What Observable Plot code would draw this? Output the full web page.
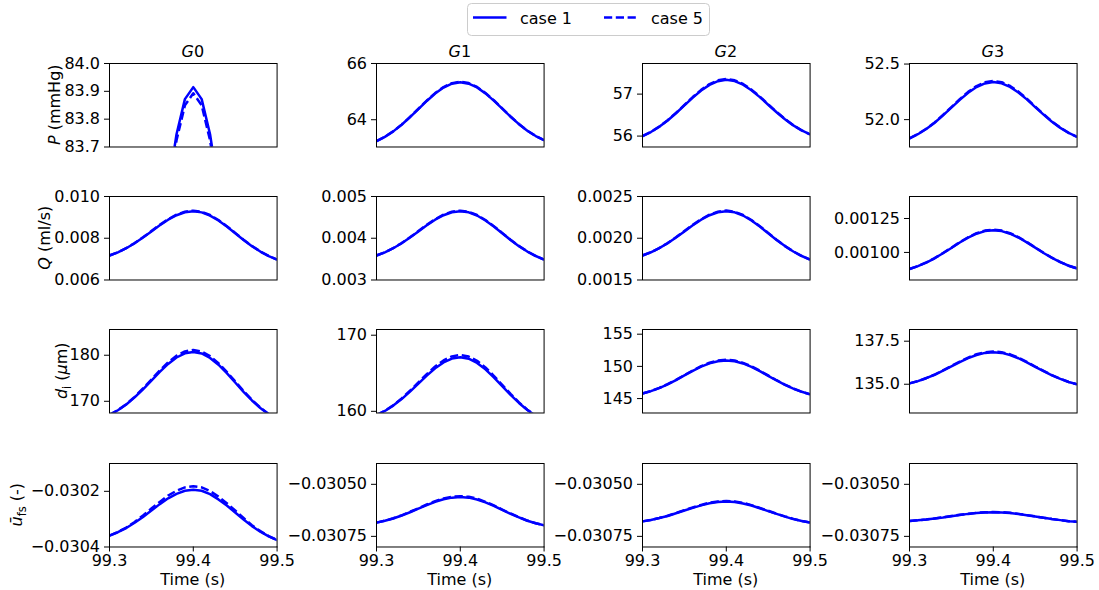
<!DOCTYPE html>
<html>
<head>
<meta charset="utf-8">
<script src="https://cdn.jsdelivr.net/npm/d3@7"></script>
<script src="https://cdn.jsdelivr.net/npm/@observablehq/plot@0.6"></script>
<style>
  html, body { margin: 0; padding: 0; background: #fff; }
  #figure { position: relative; width: 1099px; height: 590px; overflow: hidden; font-family: "DejaVu Sans", sans-serif; }
  #figure svg { position: absolute; overflow: visible; }
</style>
</head>
<body>
<div id="figure"></div>
<script>
// ---- data -------------------------------------------------------------
// Sample times (s)
const time = [99.30, 99.31, 99.32, 99.33, 99.34, 99.35, 99.36, 99.37, 99.38, 99.39, 99.40,
              99.41, 99.42, 99.43, 99.44, 99.45, 99.46, 99.47, 99.48, 99.49, 99.50];

const generations = ["0", "1", "2", "3"];
const caseNames = ["case 1", "case 5"];

// Pressure P (mmHg), G0..G3
const pressureCase1 = [
  [82.015, 82.153, 82.329, 82.542, 82.787, 83.050, 83.313, 83.553, 83.746, 83.872, 83.915, 83.872, 83.746, 83.553, 83.313, 83.050, 82.787, 82.542, 82.329, 82.153, 82.015],
  [63.240, 63.391, 63.585, 63.820, 64.090, 64.379, 64.668, 64.932, 65.144, 65.282, 65.330, 65.283, 65.147, 64.938, 64.678, 64.393, 64.107, 63.842, 63.610, 63.419, 63.270],
  [56.000, 56.097, 56.221, 56.372, 56.545, 56.730, 56.916, 57.085, 57.221, 57.309, 57.340, 57.310, 57.224, 57.092, 56.928, 56.748, 56.568, 56.401, 56.255, 56.134, 56.040],
  [51.832, 51.869, 51.916, 51.972, 52.038, 52.108, 52.178, 52.242, 52.293, 52.326, 52.338, 52.327, 52.294, 52.244, 52.182, 52.113, 52.045, 51.981, 51.926, 51.880, 51.844]
];
const pressureCase5 = [
  [81.995, 82.133, 82.308, 82.521, 82.765, 83.028, 83.291, 83.531, 83.724, 83.850, 83.893, 83.850, 83.724, 83.531, 83.291, 83.028, 82.765, 82.521, 82.308, 82.133, 81.995],
  [63.240, 63.392, 63.588, 63.826, 64.098, 64.390, 64.682, 64.948, 65.162, 65.302, 65.350, 65.303, 65.165, 64.954, 64.692, 64.404, 64.115, 63.848, 63.613, 63.420, 63.270],
  [56.000, 56.098, 56.224, 56.378, 56.553, 56.741, 56.930, 57.101, 57.239, 57.329, 57.360, 57.330, 57.242, 57.108, 56.942, 56.759, 56.576, 56.407, 56.258, 56.135, 56.040],
  [51.832, 51.870, 51.918, 51.975, 52.042, 52.113, 52.185, 52.250, 52.302, 52.336, 52.348, 52.337, 52.303, 52.252, 52.189, 52.118, 52.049, 51.984, 51.928, 51.881, 51.844]
];
const pressureTicks = [[83.7, 83.8, 83.9, 84.0], [64, 66], [56, 57], [52.0, 52.5]];
const pressureFormats = [".1f", "d", "d", ".1f"];
const pressureLimits = [[83.7, 84.0], [63.03, 66.0], [55.74, 57.73], [51.754, 52.505]];

// Flow rate Q (ml/s)
const flowCase1 = [
  [0.007172, 0.007326, 0.007522, 0.007760, 0.008034, 0.008327, 0.008621, 0.008888, 0.009104, 0.009244, 0.009292, 0.009239, 0.009087, 0.008852, 0.008560, 0.008240, 0.007920, 0.007622, 0.007362, 0.007147, 0.006980],
  [0.003586, 0.003663, 0.003761, 0.003880, 0.004017, 0.004164, 0.004311, 0.004444, 0.004552, 0.004622, 0.004646, 0.004620, 0.004544, 0.004426, 0.004280, 0.004120, 0.003960, 0.003811, 0.003681, 0.003574, 0.003490],
  [0.001793, 0.001832, 0.001881, 0.001940, 0.002009, 0.002082, 0.002155, 0.002222, 0.002276, 0.002311, 0.002323, 0.002310, 0.002272, 0.002213, 0.002140, 0.002060, 0.001980, 0.001906, 0.001841, 0.001787, 0.001745],
  [0.000878, 0.000899, 0.000925, 0.000957, 0.000994, 0.001033, 0.001073, 0.001109, 0.001138, 0.001157, 0.001163, 0.001157, 0.001138, 0.001110, 0.001074, 0.001035, 0.000996, 0.000960, 0.000928, 0.000902, 0.000882]
];
const flowCase5 = [
  [0.007172, 0.007328, 0.007527, 0.007768, 0.008046, 0.008343, 0.008641, 0.008912, 0.009131, 0.009273, 0.009322, 0.009268, 0.009114, 0.008876, 0.008580, 0.008256, 0.007932, 0.007630, 0.007367, 0.007149, 0.006980],
  [0.003586, 0.003664, 0.003764, 0.003884, 0.004023, 0.004172, 0.004321, 0.004456, 0.004566, 0.004637, 0.004661, 0.004634, 0.004557, 0.004438, 0.004290, 0.004128, 0.003966, 0.003815, 0.003684, 0.003575, 0.003490],
  [0.001793, 0.001832, 0.001882, 0.001942, 0.002012, 0.002086, 0.002160, 0.002228, 0.002283, 0.002318, 0.002331, 0.002317, 0.002279, 0.002219, 0.002145, 0.002064, 0.001983, 0.001908, 0.001842, 0.001787, 0.001745],
  [0.000878, 0.000899, 0.000926, 0.000958, 0.000996, 0.001035, 0.001076, 0.001112, 0.001142, 0.001161, 0.001167, 0.001161, 0.001142, 0.001113, 0.001077, 0.001037, 0.000998, 0.000961, 0.000929, 0.000902, 0.000882]
];
const flowTicks = [[0.006, 0.008, 0.010], [0.003, 0.004, 0.005], [0.0015, 0.0020, 0.0025], [0.00100, 0.00125]];
const flowFormats = [".3f", ".3f", ".4f", ".5f"];
const flowLimits = [[0.006, 0.010], [0.003, 0.005], [0.0015, 0.0025], [0.000797, 0.001412]];

// Inner diameter d_i (µm)
const diameterCase1 = [
  [167.06, 168.05, 169.31, 170.85, 172.61, 174.50, 176.39, 178.12, 179.51, 180.41, 180.72, 180.39, 179.42, 177.94, 176.10, 174.08, 172.06, 170.18, 168.54, 167.19, 166.13],
  [159.50, 160.05, 160.75, 161.61, 162.59, 163.64, 164.69, 165.65, 166.42, 166.93, 167.10, 166.91, 166.36, 165.52, 164.47, 163.32, 162.17, 161.10, 160.17, 159.40, 158.80],
  [145.78, 146.15, 146.63, 147.21, 147.87, 148.59, 149.30, 149.95, 150.47, 150.81, 150.93, 150.81, 150.46, 149.93, 149.26, 148.54, 147.81, 147.13, 146.54, 146.05, 145.67],
  [135.05, 135.18, 135.35, 135.55, 135.79, 136.04, 136.29, 136.52, 136.70, 136.82, 136.86, 136.82, 136.70, 136.51, 136.27, 136.01, 135.76, 135.52, 135.31, 135.13, 135.00]
];
const diameterCase5 = [
  [167.06, 168.08, 169.38, 170.97, 172.78, 174.73, 176.68, 178.47, 179.90, 180.83, 181.15, 180.81, 179.81, 178.29, 176.39, 174.31, 172.23, 170.30, 168.61, 167.22, 166.13],
  [159.50, 160.07, 160.80, 161.69, 162.71, 163.80, 164.89, 165.89, 166.69, 167.22, 167.40, 167.20, 166.63, 165.76, 164.67, 163.48, 162.29, 161.18, 160.22, 159.42, 158.80],
  [145.78, 146.16, 146.65, 147.24, 147.91, 148.64, 149.37, 150.03, 150.56, 150.91, 151.03, 150.91, 150.55, 150.01, 149.33, 148.59, 147.85, 147.16, 146.56, 146.06, 145.67],
  [135.05, 135.18, 135.36, 135.56, 135.81, 136.06, 136.32, 136.55, 136.74, 136.86, 136.90, 136.86, 136.74, 136.54, 136.30, 136.03, 135.78, 135.53, 135.32, 135.13, 135.00]
];
const diameterTicks = [[170, 180], [160, 170], [145, 150, 155], [135.0, 137.5]];
const diameterFormats = ["d", "d", "d", ".1f"];
const diameterLimits = [[167.46, 185.59], [159.78, 170.75], [142.76, 155.73], [133.33, 138.18]];

// Mean fluid-structure velocity ū_fs (-)
const velocityCase1 = [
  [-0.030359, -0.030347, -0.030332, -0.030313, -0.030292, -0.030269, -0.030246, -0.030225, -0.030209, -0.030198, -0.030194, -0.030198, -0.030210, -0.030229, -0.030251, -0.030276, -0.030301, -0.030325, -0.030345, -0.030362, -0.030375],
  [-0.030684, -0.030675, -0.030664, -0.030650, -0.030634, -0.030617, -0.030600, -0.030584, -0.030572, -0.030564, -0.030561, -0.030564, -0.030573, -0.030587, -0.030604, -0.030623, -0.030642, -0.030659, -0.030675, -0.030687, -0.030697],
  [-0.030678, -0.030671, -0.030662, -0.030652, -0.030639, -0.030626, -0.030613, -0.030601, -0.030591, -0.030585, -0.030583, -0.030585, -0.030592, -0.030602, -0.030615, -0.030629, -0.030642, -0.030655, -0.030667, -0.030676, -0.030683],
  [-0.030676, -0.030673, -0.030669, -0.030664, -0.030659, -0.030653, -0.030647, -0.030642, -0.030638, -0.030635, -0.030634, -0.030635, -0.030638, -0.030643, -0.030649, -0.030655, -0.030661, -0.030667, -0.030672, -0.030677, -0.030680]
];
const velocityCase5 = [
  [-0.030359, -0.030346, -0.030330, -0.030310, -0.030287, -0.030262, -0.030238, -0.030215, -0.030198, -0.030186, -0.030182, -0.030186, -0.030199, -0.030219, -0.030243, -0.030269, -0.030296, -0.030322, -0.030343, -0.030361, -0.030375],
  [-0.030684, -0.030675, -0.030663, -0.030649, -0.030632, -0.030615, -0.030597, -0.030581, -0.030568, -0.030560, -0.030557, -0.030560, -0.030569, -0.030584, -0.030601, -0.030621, -0.030640, -0.030658, -0.030674, -0.030687, -0.030697],
  [-0.030678, -0.030671, -0.030662, -0.030651, -0.030638, -0.030624, -0.030611, -0.030599, -0.030588, -0.030582, -0.030580, -0.030582, -0.030589, -0.030600, -0.030613, -0.030627, -0.030641, -0.030654, -0.030666, -0.030676, -0.030683],
  [-0.030676, -0.030673, -0.030669, -0.030664, -0.030658, -0.030652, -0.030646, -0.030641, -0.030637, -0.030634, -0.030633, -0.030634, -0.030637, -0.030642, -0.030648, -0.030654, -0.030661, -0.030667, -0.030672, -0.030677, -0.030680]
];
const velocityTicks = [[-0.0304, -0.0302], [-0.03075, -0.03050], [-0.03075, -0.03050], [-0.03075, -0.03050]];
const velocityFormats = [".4f", ".5f", ".5f", ".5f"];
const velocityLimits = [[-0.03040, -0.03010], [-0.030801, -0.030400], [-0.030801, -0.030400], [-0.030801, -0.030400]];

const timeTicks = [99.3, 99.4, 99.5];
const timeLimits = [99.3, 99.5];

// ---- layout -------------------------------------------------------------
const colLeft = [108.5, 375.6, 642.3, 909.2];
const rowTop = [62.7, 195.9, 329.3, 463.3];
const panelW = 167.6, panelH = 83.5;
const M = {left: 112, right: 45, top: 30, bottom: 45};
const fontPx = 16;
const blue = "#0000ff";
const lineW = 2.5;
const dash = "8.2,3.6";

// y-axis label pieces (italic symbols, upright units, subscripts)
const rows = [
  {case1: pressureCase1, case5: pressureCase5, ticks: pressureTicks, formats: pressureFormats, limits: pressureLimits,
   labelX: 54, label: [{t: "P", i: true}, {t: " (mmHg)"}]},
  {case1: flowCase1, case5: flowCase5, ticks: flowTicks, formats: flowFormats, limits: flowLimits,
   labelX: 44, label: [{t: "Q", i: true}, {t: " (ml/s)"}]},
  {case1: diameterCase1, case5: diameterCase5, ticks: diameterTicks, formats: diameterFormats, limits: diameterLimits,
   labelX: 61, label: [{t: "d", i: true}, {t: "i", sub: true}, {t: " ("}, {t: "μ", i: true}, {t: "m)"}]},
  {case1: velocityCase1, case5: velocityCase5, ticks: velocityTicks, formats: velocityFormats, limits: velocityLimits,
   labelX: 16, label: [{t: "ū", i: true}, {t: "fs", sub: true}, {t: " (-)"}]}
];

function richText(textSel, parts) {
  let shifted = false;
  for (const p of parts) {
    const ts = textSel.append("tspan").text(p.t);
    if (p.i) ts.attr("font-style", "italic");
    if (p.sub) {
      ts.attr("font-size", "11.5px").attr("dy", shifted ? 0 : 3.5);
      shifted = true;
    } else if (shifted) {
      ts.attr("dy", -3.5);
      shifted = false;
    }
  }
}

const figure = d3.select("#figure");

rows.forEach((row, r) => {
  generations.forEach((gen, c) => {
    const bottom = r === rows.length - 1;
    const marks = [
      Plot.line(time, {x: time, y: row.case1[c], stroke: blue, strokeWidth: lineW, clip: true}),
      Plot.line(time, {x: time, y: row.case5[c], stroke: blue, strokeWidth: lineW, strokeDasharray: dash,
                       strokeLinecap: "butt", clip: true}),
      Plot.axisY({ticks: row.ticks[c], tickFormat: d3.format(row.formats[c]), tickSize: 5, tickPadding: 4.5,
                  fontSize: fontPx, label: null}),
      Plot.frame({stroke: "#000", strokeWidth: 1})
    ];
    if (bottom) {
      marks.push(Plot.axisX({ticks: timeTicks, tickFormat: d3.format(".1f"), tickSize: 5, tickPadding: 2.5,
                             fontSize: fontPx, label: null}));
    }
    const svg = Plot.plot({
      width: M.left + panelW + M.right,
      height: M.top + panelH + M.bottom,
      marginLeft: M.left, marginRight: M.right, marginTop: M.top, marginBottom: M.bottom,
      style: {background: "transparent", overflow: "visible", fontFamily: "'DejaVu Sans', sans-serif",
              fontSize: fontPx + "px", color: "#000"},
      x: bottom ? {domain: timeLimits} : {domain: timeLimits, axis: null},
      y: {domain: row.limits[c]},
      marks
    });
    const ox = colLeft[c] - M.left, oy = rowTop[r] - M.top;
    svg.style.left = ox + "px";
    svg.style.top = oy + "px";
    const s = d3.select(svg);

    // generation title above the first row
    if (r === 0) {
      const t = s.append("text")
        .attr("x", M.left + panelW / 2).attr("y", M.top - 6.3)
        .attr("text-anchor", "middle").attr("font-size", fontPx).attr("fill", "#000");
      richText(t, [{t: "G", i: true}, {t: gen}]);
    }
    // quantity label on the first column
    if (c === 0) {
      const t = s.append("text")
        .attr("transform", `translate(${row.labelX - ox},${M.top + panelH / 2}) rotate(-90)`)
        .attr("dy", "0.36em")
        .attr("text-anchor", "middle").attr("font-size", fontPx).attr("fill", "#000");
      richText(t, row.label);
    }
    // time label under the last row
    if (bottom) {
      s.append("text")
        .attr("x", M.left + panelW / 2).attr("y", M.top + panelH + 38.3)
        .attr("text-anchor", "middle").attr("font-size", fontPx).attr("fill", "#000")
        .text("Time (s)");
    }
    figure.node().appendChild(svg);
  });
});

// ---- legend -------------------------------------------------------------
const legend = figure.append("svg")
  .attr("width", 260).attr("height", 40)
  .style("left", "460px").style("top", "0px");
legend.append("rect")
  .attr("x", 7.5).attr("y", 3.5).attr("width", 242).attr("height", 32).attr("rx", 4)
  .attr("fill", "#fff").attr("stroke", "#cccccc").attr("stroke-width", 1);
const entries = [
  {name: caseNames[0], x: 13, dash: null},
  {name: caseNames[1], x: 144, dash: dash}
];
for (const e of entries) {
  legend.append("line")
    .attr("x1", e.x).attr("x2", e.x + 33.5).attr("y1", 17.5).attr("y2", 17.5)
    .attr("stroke", blue).attr("stroke-width", lineW)
    .attr("stroke-dasharray", e.dash);
  legend.append("text")
    .attr("x", e.x + 47).attr("y", 24)
    .attr("font-family", "'DejaVu Sans', sans-serif").attr("font-size", fontPx).attr("fill", "#000")
    .text(e.name);
}
</script>
</body>
</html>
